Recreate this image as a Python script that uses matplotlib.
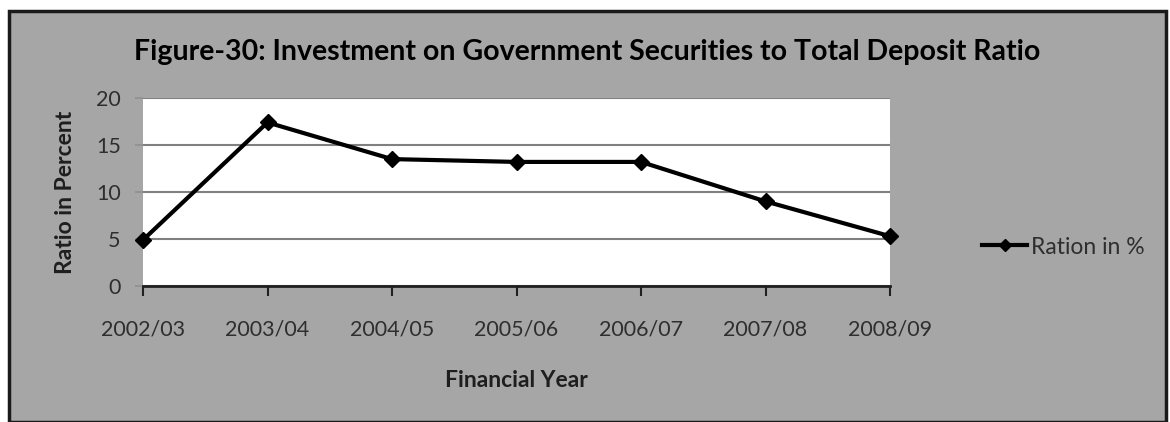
import matplotlib.pyplot as plt
from matplotlib.patches import Rectangle
from matplotlib.lines import Line2D

years = ['2002/03', '2003/04', '2004/05', '2005/06', '2006/07', '2007/08', '2008/09']
ratio = [4.9, 17.4, 13.5, 13.2, 13.2, 9.0, 5.3]

plt.rcParams['font.family'] = ['Lato', 'DejaVu Sans']

fig = plt.figure(figsize=(11.7, 4.22), dpi=100)
fig.patch.set_facecolor('white')

# grey chart area with a dark frame
fig.patches.append(Rectangle((9 / 1170, 0.5 / 422), 1157 / 1170, 411 / 422,
                             transform=fig.transFigure, facecolor='#a6a6a6',
                             edgecolor='#1a1a1a', linewidth=2.5, zorder=-5))

ax = fig.add_axes([143 / 1170, 136 / 422, 747 / 1170, 188 / 422])
ax.set_facecolor('white')

x = range(len(years))
ax.plot(x, ratio, color='black', linewidth=3, marker='D', markersize=8,
        label='Ration in %', zorder=3, clip_on=False)

ax.set_xlim(0, len(years) - 1)
ax.set_ylim(0, 20)
ax.set_yticks([0, 5, 10, 15, 20])
ax.set_xticks(list(x))
ax.set_xticklabels(years)
ax.yaxis.grid(True, color='#808080', linewidth=1.5)
ax.set_axisbelow(True)

for side in ['top', 'right', 'left']:
    ax.spines[side].set_visible(False)
ax.spines['bottom'].set_color('#202020')
ax.spines['bottom'].set_linewidth(2)

ax.tick_params(axis='x', length=7, width=1.5, color='#202020', pad=17,
               labelsize=15.5, labelcolor='#2e2e2e')
ax.tick_params(axis='y', length=6, width=1.2, color='#909090', pad=10,
               labelsize=15.5, labelcolor='#2e2e2e')

ax.set_xlabel('Financial Year', fontsize=16.5, fontweight='bold', labelpad=22,
              color='#1e1e1e')
ax.set_ylabel('Ratio in Percent', fontsize=16.5, fontweight='bold', labelpad=14,
              color='#1e1e1e')

fig.text(587 / 1170, 1 - 52 / 422,
         'Figure-30: Investment on Government Securities to Total Deposit Ratio',
         ha='center', va='center', fontsize=20.5, fontweight='bold', color='black')

handle = Line2D([], [], color='black', linewidth=3, marker='D', markersize=6)
fig.legend([handle], ['Ration in %'], loc='center left',
           bbox_to_anchor=(961 / 1170, 1 - 247 / 422), frameon=False,
           fontsize=16.5, handlelength=2.0, handletextpad=0.15,
           labelcolor='#2e2e2e')

fig.savefig('out.png', dpi=100)
